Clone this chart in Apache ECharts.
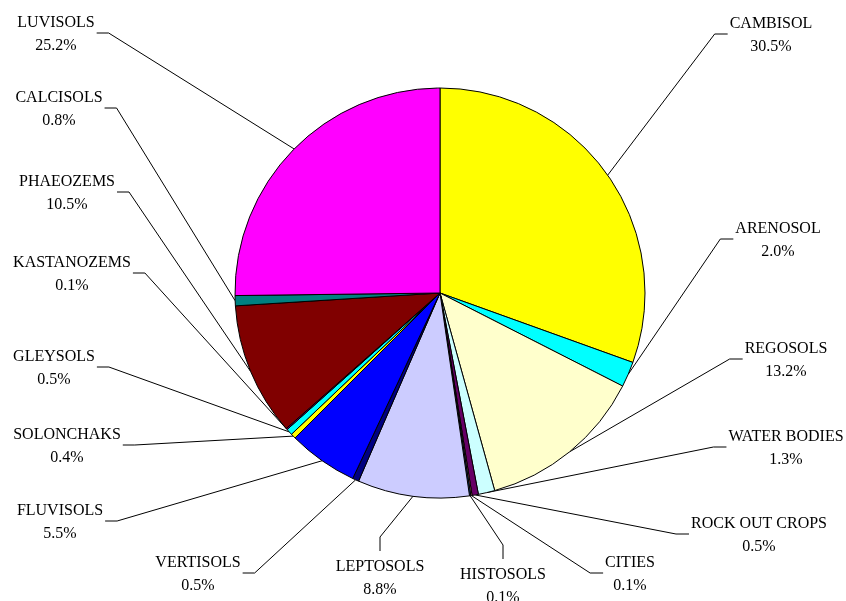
<!DOCTYPE html>
<html><head><meta charset="utf-8">
<script src="https://cdn.jsdelivr.net/npm/echarts/dist/echarts.min.js"></script>
<style>html,body{margin:0;padding:0;background:#fff}#c{width:846px;height:601px}</style>
</head><body><div id="c"></div>
<script>
// Soil classes, clockwise from 12 o'clock
const categories = ['CAMBISOL','ARENOSOL','REGOSOLS','WATER BODIES','ROCK OUT CROPS','CITIES','HISTOSOLS','LEPTOSOLS','VERTISOLS','FLUVISOLS','SOLONCHAKS','GLEYSOLS','KASTANOZEMS','PHAEOZEMS','CALCISOLS','LUVISOLS'];
const values = [30.5, 2.0, 13.2, 1.3, 0.5, 0.1, 0.1, 8.8, 0.5, 5.5, 0.4, 0.5, 0.1, 10.5, 0.8, 25.2];
const colors = ['#FFFF00','#00FFFF','#FFFFCC','#CCFFFF','#660066','#FF8080','#0066CC','#CCCCFF','#000080','#0000FF','#FFFF00','#00FFFF','#800080','#800000','#008080','#FF00FF'];
// label block centre and which side the leader attaches (R: line enters from left, L: from right, B: from top)
const labelPos = [[771,35,'R'],[778,240,'R'],[786,360,'R'],[786,448,'R'],[759,535,'R'],[630,574,'R'],[503,586,'B'],[380,578,'B'],[198,574,'L'],[60,522,'L'],[67,446,'L'],[54,368,'L'],[72,274,'L'],[67,193,'L'],[59,109,'L'],[56,34,'L']];

const FONT = '"Liberation Serif", "Times New Roman", serif';
const FS = 16, LH = 23;
const ctx = document.createElement('canvas').getContext('2d');
ctx.font = FS + 'px ' + FONT;
const fmt = (v) => v.toFixed(1) + '%';
const textW = categories.map((n, i) => Math.max(ctx.measureText(n).width, ctx.measureText(fmt(values[i])).width));

const chart = echarts.init(document.getElementById('c'), null, {renderer: 'canvas'});
chart.setOption({
  animation: false,
  backgroundColor: '#fff',
  series: [{
    type: 'pie',
    center: [440, 293],
    radius: 205,
    startAngle: 90,
    clockwise: true,
    avoidLabelOverlap: false,
    emphasis: {disabled: true, scale: false},
    itemStyle: {borderColor: '#000', borderWidth: 1},
    label: {
      show: true,
      position: 'outside',
      formatter: (p) => p.name + '\n' + fmt(p.value),
      fontFamily: FONT,
      fontSize: FS,
      lineHeight: LH,
      color: '#000'
    },
    labelLine: {show: true, smooth: false, lineStyle: {color: '#000', width: 1}},
    labelLayout: function (params) {
      const i = params.dataIndex;
      const [cx, cy, side] = labelPos[i];
      const w = textW[i];
      const p0 = params.labelLinePoints[0];
      let p1, p2;
      if (side === 'R') { p2 = [cx - w / 2 - 2, cy - 1]; p1 = [p2[0] - 13, cy - 1]; }
      else if (side === 'L') { p2 = [cx + w / 2 + 2, cy - 1]; p1 = [p2[0] + 12, cy - 1]; }
      else { p2 = [cx, cy - 27]; p1 = [cx, p2[1] - 14]; }
      return {x: cx, y: cy, align: 'center', verticalAlign: 'middle', labelLinePoints: [p0, p1, p2]};
    },
    data: categories.map((n, i) => ({name: n, value: values[i], itemStyle: {color: colors[i]}}))
  }]
});
</script>
</body></html>
